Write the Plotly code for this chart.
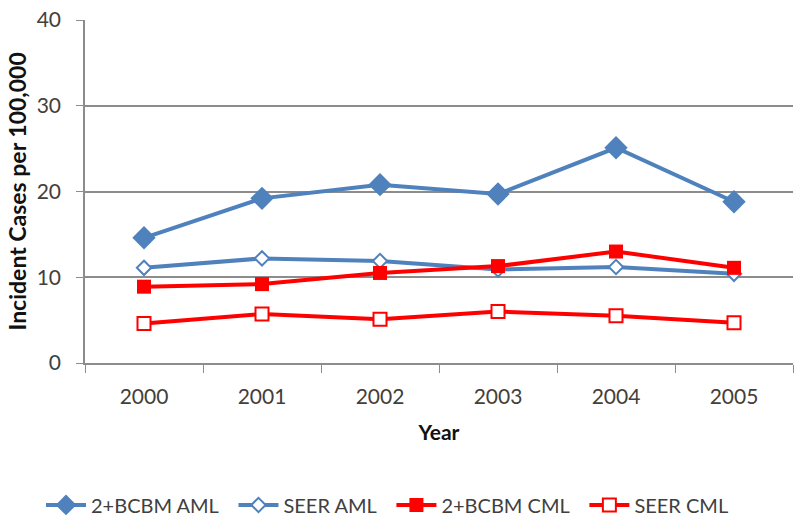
import plotly.graph_objects as go

years = ["2000", "2001", "2002", "2003", "2004", "2005"]
bcbm_aml = [14.6, 19.2, 20.8, 19.7, 25.1, 18.8]
seer_aml = [11.1, 12.2, 11.9, 10.9, 11.2, 10.4]
bcbm_cml = [8.9, 9.2, 10.5, 11.3, 13.0, 11.1]
seer_cml = [4.6, 5.7, 5.1, 6.0, 5.5, 4.7]

BLUE = "#4F81BD"
RED = "#FF0000"
GREY = "#8C8C8C"
FONT = "Lato"
PAD = "\u00a0" * 2  # a little extra room between legend entries

fig = go.Figure()

series = [
    ("2+BCBM AML", bcbm_aml, BLUE, "diamond", 18, BLUE),
    ("SEER AML", seer_aml, BLUE, "diamond", 11, "white"),
    ("2+BCBM CML", bcbm_cml, RED, "square", 14, RED),
    ("SEER CML", seer_cml, RED, "square", 13, "white"),
]
for name, vals, color, sym, size, fill in series:
    fig.add_trace(go.Scatter(
        x=years, y=vals, name=name + PAD, mode="lines+markers",
        line=dict(color=color, width=4),
        marker=dict(symbol=sym, size=size, color=fill,
                    line=dict(color=color, width=2 if fill == "white" else 0)),
    ))

fig.update_layout(
    width=800, height=526,
    margin=dict(l=85, r=7, t=20, b=163),
    paper_bgcolor="white", plot_bgcolor="white",
    font=dict(family=FONT, size=21, color="#404040"),
    showlegend=True,
    legend=dict(orientation="h", xref="container", x=0.49, xanchor="center",
                yref="container", y=0.04, yanchor="middle",
                font=dict(size=20), itemwidth=40, traceorder="normal"),
    xaxis=dict(
        type="category", range=[-0.5, 5.5], automargin=False,
        showline=True, linecolor=GREY, linewidth=1.5,
        ticks="outside", tickson="boundaries", ticklen=8, tickcolor=GREY,
        ticklabelstandoff=14,
        showgrid=False,
        title=dict(text="<b>Year</b>", font=dict(size=21, color="#111111"), standoff=18),
    ),
    yaxis=dict(
        range=[0, 40], dtick=10, automargin=False,
        showline=True, linecolor=GREY, linewidth=1.5,
        ticks="outside", ticklen=7, tickcolor=GREY,
        ticklabelstandoff=11, ticklabeloverflow="allow",
        showgrid=True, gridcolor=GREY, gridwidth=1.5,
        zeroline=False,
    ),
)

# y title as an annotation so it can sit at the far left
fig.add_annotation(
    text="<b>Incident Cases per 100,000</b>", textangle=-90,
    xref="paper", x=-69 / 708, xanchor="center",
    yref="paper", y=0.5, yanchor="middle",
    showarrow=False, font=dict(size=23, color="#111111"),
)

fig.write_html("out.html", config={"displayModeBar": False},
               post_script="document.body.style.margin='0';")
